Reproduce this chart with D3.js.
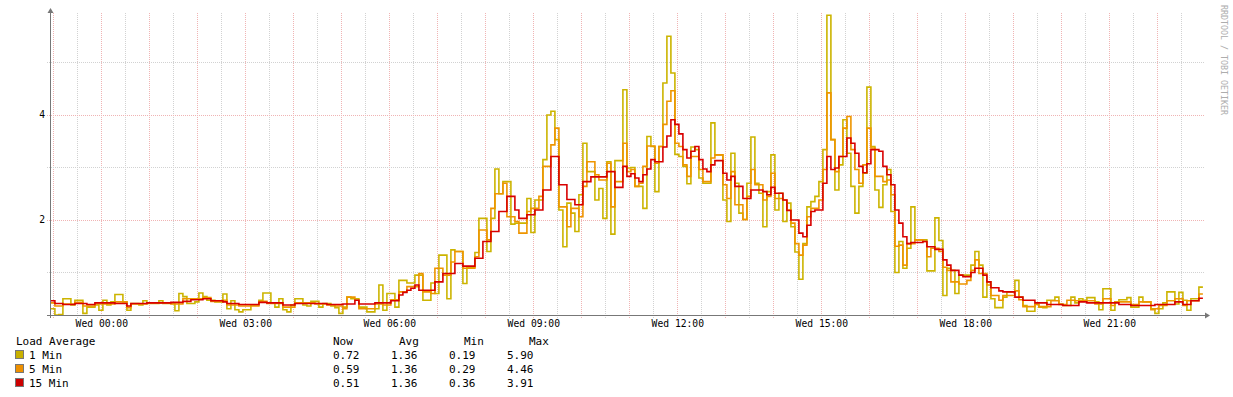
<!DOCTYPE html>
<html><head><meta charset="utf-8">
<script src="https://cdn.jsdelivr.net/npm/d3@7"></script>
<style>
body{margin:0;background:#fff}
svg{display:block}
text{font-family:"DejaVu Sans Mono",monospace}
</style>
</head><body>
<svg id="chart" width="1233" height="397"></svg>
<script>
// ---- data ----
const seriesNames = ["1 Min", "5 Min", "15 Min"];
const startTime = new Date(2000, 0, 4, 22, 57); // Tue 22:57, 5-minute samples
const stepMinutes = 5;
const load1 = [
0.31,0.19,0.2,0.5,0.5,0.38,0.47,0.47,0.22,0.34,
0.34,0.38,0.28,0.47,0.38,0.44,0.58,0.58,0.44,0.28,
0.41,0.41,0.38,0.46,0.41,0.41,0.41,0.46,0.41,0.41,
0.41,0.27,0.6,0.54,0.41,0.41,0.44,0.61,0.54,0.47,
0.47,0.44,0.44,0.59,0.31,0.46,0.29,0.25,0.29,0.29,
0.38,0.38,0.47,0.61,0.61,0.42,0.34,0.5,0.29,0.25,
0.38,0.5,0.5,0.38,0.36,0.45,0.45,0.34,0.41,0.41,
0.36,0.33,0.22,
0.34,0.53,0.5,0.5,0.34,0.34,0.25,
0.25,0.31,0.76,0.28,0.6,0.6,0.34,0.85,0.85,0.8,
0.8,0.95,0.95,0.47,0.47,0.8,0.6,1.33,1.33,0.5,
1.43,1.4,1.4,0.79,1.1,1.1,1.38,2.03,2.03,1.4,
2.03,2.97,2.5,2.73,2.73,1.92,1.94,1.94,1.94,2.41,
1.76,2.38,2.38,3.15,4.0,4.07,3.53,2.19,1.49,2.32,
2.13,1.78,2.48,3.46,2.92,2.92,2.38,2.6,2.03,3.11,
1.73,3.13,3.13,4.48,2.99,
3.0,2.64,2.64,2.22,3.59,
3.4,2.54,3.4,4.61,5.5,4.8,3.25,3.21,3.02,2.69,
3.39,3.34,2.8,2.7,2.7,3.85,3.24,3.24,2.38,1.97,
3.27,2.7,2.13,2.01,2.7,3.58,2.7,2.51,1.87,2.54,
3.24,2.19,2.51,1.97,2.32,1.87,1.39,0.87,1.55,2.25,
2.35,2.45,2.73,3.34,5.9,3.53,2.57,3.05,3.91,3.27,
2.64,2.13,2.64,2.89,4.53,3.4,2.57,2.24,2.67,2.96,
2.16,1.0,1.59,1.08,1.46,2.25,1.62,1.62,
1.62,1.03,
1.03,2.04,1.61,0.56,1.08,1.04,0.6,0.95,0.95,0.95,
1.14,1.4,1.14,0.53,0.82,0.5,0.33,0.33,0.53,0.63,
0.63,0.85,0.53,0.37,0.26,0.26,0.4,0.34,0.33,0.47,
0.47,0.53,0.4,0.37,0.37,0.53,0.42,0.5,0.47,0.52,
0.52,0.44,0.29,0.69,0.69,0.28,0.44,0.48,0.48,0.52,
0.34,0.34,0.53,0.44,0.44,0.31,0.22,0.31,0.42,0.63,
0.63,0.4,0.62,0.47,0.28,0.5,0.5,0.72
];
const load5 = [
0.42,0.36,0.36,0.4,0.4,0.4,0.43,0.43,0.36,0.36,
0.36,0.4,0.4,0.4,0.4,0.4,0.44,0.44,0.44,0.33,
0.4,0.4,0.4,0.4,0.42,0.42,0.42,0.42,0.42,0.42,
0.4,0.4,0.4,0.5,0.5,0.5,0.5,0.5,0.52,0.52,
0.45,0.45,0.45,0.47,0.38,0.38,0.38,0.36,0.36,0.36,
0.36,0.36,0.45,0.45,0.41,0.41,0.41,0.41,0.34,0.34,
0.34,0.42,0.42,0.42,0.42,0.42,0.4,0.4,0.4,0.38,
0.38,0.36,0.36,
0.31,0.53,0.53,0.47,0.31,0.31,0.31,
0.31,0.4,0.4,0.38,0.38,0.48,0.48,0.63,0.63,0.73,
0.73,0.73,0.98,0.63,0.63,0.6,1.08,1.08,0.95,0.95,
1.2,1.4,1.4,1.08,1.08,1.08,1.3,1.81,1.81,1.62,
2.22,2.5,2.5,2.7,2.06,2.06,1.97,1.75,1.75,2.16,
2.22,2.22,2.45,3.02,3.02,3.43,3.75,2.25,2.25,1.87,
2.22,2.22,2.06,2.64,3.11,3.11,2.86,2.76,2.76,3.08,
2.25,2.73,2.73,3.46,2.92,
2.96,2.64,2.7,3.02,3.41,
3.41,3.08,3.4,3.82,4.26,4.46,3.46,3.4,3.05,2.83,
3.21,3.21,2.96,2.73,2.73,3.18,3.24,3.24,2.67,2.41,
2.92,2.29,2.29,2.01,2.45,2.96,2.67,2.67,2.38,2.45,
2.89,2.41,2.41,2.38,2.19,1.94,1.55,1.33,1.52,2.06,
2.22,2.22,2.38,2.96,4.42,3.53,2.92,3.21,3.75,3.97,
3.34,2.96,2.7,3.05,3.75,3.37,2.83,2.83,2.73,2.76,
2.48,1.5,1.52,1.14,1.55,1.55,1.62,1.62,
1.59,1.3,
1.46,1.46,1.4,1.1,1.04,0.82,0.82,0.78,0.78,0.85,
1.04,1.24,0.98,0.98,0.76,0.56,0.56,0.47,0.56,0.56,
0.56,0.65,0.48,0.35,0.35,0.35,0.39,0.35,0.35,0.35,
0.46,0.46,0.39,0.39,0.47,0.47,0.46,0.46,0.46,0.46,
0.46,0.4,0.4,0.5,0.5,0.37,0.44,0.44,0.44,0.44,
0.39,0.39,0.44,0.44,0.44,0.29,0.31,0.37,0.37,0.46,
0.46,0.5,0.5,0.37,0.46,0.46,0.46,0.59
];
const load15 = [
0.46,0.41,0.41,0.39,0.39,0.39,0.41,0.41,0.41,0.39,
0.39,0.42,0.42,0.42,0.42,0.42,0.41,0.41,0.41,0.36,
0.41,0.41,0.41,0.41,0.42,0.42,0.42,0.42,0.42,0.42,
0.43,0.43,0.43,0.45,0.45,0.48,0.48,0.48,0.5,0.5,
0.46,0.46,0.46,0.44,0.41,0.41,0.41,0.39,0.39,0.39,
0.39,0.39,0.43,0.43,0.42,0.42,0.42,0.42,0.38,0.38,
0.38,0.41,0.41,0.41,0.41,0.41,0.41,0.41,0.41,0.39,
0.39,0.39,0.39,
0.4,0.4,0.4,0.47,0.4,0.4,0.4,
0.4,0.42,0.42,0.42,0.42,0.46,0.46,0.57,0.62,0.66,
0.7,0.76,0.66,0.66,0.66,0.66,0.82,0.82,0.98,0.98,
0.98,1.17,1.17,1.12,1.12,1.12,1.27,1.27,1.59,1.59,
1.78,1.78,2.16,2.16,2.45,2.45,2.19,2.03,2.03,2.1,
2.1,2.19,2.19,2.57,2.57,3.21,3.21,2.67,2.67,2.39,
2.39,2.29,2.29,2.73,2.73,2.82,2.82,2.82,2.82,2.92,
2.92,2.62,2.62,3.02,2.83,
2.88,2.8,2.73,2.86,2.97,
3.15,3.11,3.11,3.39,3.6,3.91,3.82,3.64,3.34,3.18,
3.31,3.4,3.15,2.97,2.92,3.05,3.13,3.13,2.89,2.76,
2.83,2.64,2.64,2.41,2.41,2.57,2.57,2.57,2.54,2.48,
2.62,2.51,2.51,2.38,2.18,2.0,2.0,1.75,1.68,1.9,
2.16,2.19,2.19,2.7,3.21,2.96,2.99,3.21,3.21,3.56,
3.46,3.27,3.02,2.9,3.07,3.34,3.34,3.31,3.02,2.86,
2.67,2.19,1.94,1.68,1.55,1.57,1.57,1.57,
1.59,1.49,
1.49,1.44,1.44,1.24,1.14,1.04,1.04,0.95,0.92,0.92,
1.0,1.08,1.08,0.95,0.82,0.71,0.71,0.65,0.63,0.63,
0.63,0.53,0.53,0.47,0.47,0.47,0.42,0.42,0.42,0.39,
0.39,0.39,0.39,0.37,0.37,0.37,0.37,0.44,0.44,0.42,
0.42,0.42,0.42,0.42,0.42,0.42,0.42,0.39,0.39,0.39,
0.37,0.37,0.37,0.37,0.37,0.37,0.39,0.39,0.39,0.39,
0.39,0.44,0.44,0.39,0.39,0.46,0.46,0.51
];
const xTickLabels = ["Wed 00:00","Wed 03:00","Wed 06:00","Wed 09:00","Wed 12:00","Wed 15:00","Wed 18:00","Wed 21:00"];
const yTickLabels = [2, 4];
const statHeaders = ["Now", "Avg", "Min", "Max"];
const statNow = ["0.72", "0.59", "0.51"];
const statAvg = ["1.36", "1.36", "1.36"];
const statMin = ["0.19", "0.29", "0.36"];
const statMax = ["5.90", "4.46", "3.91"];

// ---- styles ----
const lineColors = ["#CCB400", "#EE9500", "#D80000"];
const swatchColors = ["#C8B000", "#EE9000", "#CC0000"];
const axisColor = "#777";
const minorGrid = "#d2d2d2";
const majorGrid = "#f0b4b4";

const svg = d3.select("#chart");
const W = 1233, H = 397;
svg.append("rect").attr("width", W).attr("height", H).attr("fill", "#fff");

const endTime = new Date(startTime.getTime() + load1.length * stepMinutes * 60000);
const x = d3.scaleTime().domain([startTime, endTime]).range([50.9, 1202.9]);
const y = d3.scaleLinear().domain([0.18, 5.94]).range([315.5, 13.1]);

const plotTop = 13, plotBottom = 315.5, plotRight = 1205;

// vertical grid every 30 minutes
const gridTimes = d3.timeMinute.every(30).range(startTime, endTime);
const g = svg.append("g").attr("shape-rendering", "crispEdges");
gridTimes.forEach(t => {
  const major = t.getMinutes() === 0;
  const px = Math.round(x(t)) + 0.5;
  g.append("line").attr("x1", px).attr("x2", px).attr("y1", plotTop).attr("y2", plotBottom + 3)
    .attr("stroke", major ? majorGrid : minorGrid).attr("stroke-dasharray", "1,1");
});
// horizontal grid
d3.range(1, 6).forEach(v => {
  const major = v % 2 === 0;
  const py = Math.round(y(v)) + 0.5;
  g.append("line").attr("x1", 47).attr("x2", plotRight).attr("y1", py).attr("y2", py)
    .attr("stroke", major ? majorGrid : minorGrid).attr("stroke-dasharray", "1,1");
});

// series lines
const allSeries = [load1, load5, load15];
allSeries.forEach((vals, k) => {
  const pts = vals.map((v, i) => [new Date(startTime.getTime() + i * stepMinutes * 60000), v]);
  pts.push([endTime, vals[vals.length - 1]]);
  const line = d3.line().x(d => x(d[0])).y(d => y(d[1])).curve(d3.curveStepAfter);
  svg.append("path").datum(pts).attr("d", line).attr("fill", "none")
    .attr("stroke", lineColors[k]).attr("stroke-width", 1.6).attr("stroke-linejoin", "miter");
});

// axes
const ax = svg.append("g");
ax.append("line").attr("x1", 47).attr("x2", plotRight).attr("y1", 315.5).attr("y2", 315.5)
  .attr("stroke", axisColor).attr("stroke-width", 1).attr("shape-rendering", "crispEdges");
ax.append("line").attr("x1", 50.5).attr("x2", 50.5).attr("y1", 318).attr("y2", 12)
  .attr("stroke", axisColor).attr("stroke-width", 1).attr("shape-rendering", "crispEdges");
ax.append("path").attr("d", "M1205,312.5 L1210,315.5 L1205,318.5 Z").attr("fill", axisColor);
ax.append("path").attr("d", "M47.5,13 L50.5,8 L53.5,13 Z").attr("fill", axisColor);

// x tick labels
const labelTimes = d3.timeHour.every(3).range(new Date(2000, 0, 5, 0, 0), endTime);
labelTimes.forEach((t, i) => {
  svg.append("text").attr("x", x(t) + 0.5).attr("y", 327).attr("text-anchor", "middle")
    .attr("font-size", "9.7px").attr("fill", "#000").text(xTickLabels[i]);
});
// y tick labels
yTickLabels.forEach(v => {
  svg.append("text").attr("x", 45).attr("y", y(v) + 3.5).attr("text-anchor", "end")
    .attr("font-size", "9.7px").attr("fill", "#000").text(v);
});

// watermark
svg.append("text").attr("transform", "translate(1221,5) rotate(90)")
  .attr("font-size", "8.3px").attr("fill", "#adadad").text("RRDTOOL / TOBI OETIKER");

// legend
const lg = svg.append("g").attr("font-size", "11px").attr("fill", "#000");
lg.append("text").attr("x", 16).attr("y", 345).text("Load Average");
const colX = [333, 399, 464, 529];
const valX = [333, 391, 449, 507];
statHeaders.forEach((h, i) => lg.append("text").attr("x", colX[i]).attr("y", 345).text(h));
seriesNames.forEach((name, k) => {
  const by = 359 + k * 14;
  lg.append("rect").attr("x", 15.5).attr("y", by - 8.5).attr("width", 8).attr("height", 8)
    .attr("fill", swatchColors[k]).attr("stroke", "#777").attr("stroke-width", 1);
  lg.append("text").attr("x", 29).attr("y", by).text(name);
  [statNow, statAvg, statMin, statMax].forEach((arr, i) => {
    lg.append("text").attr("x", valX[i]).attr("y", by).text(arr[k]);
  });
});
</script>
</body></html>
